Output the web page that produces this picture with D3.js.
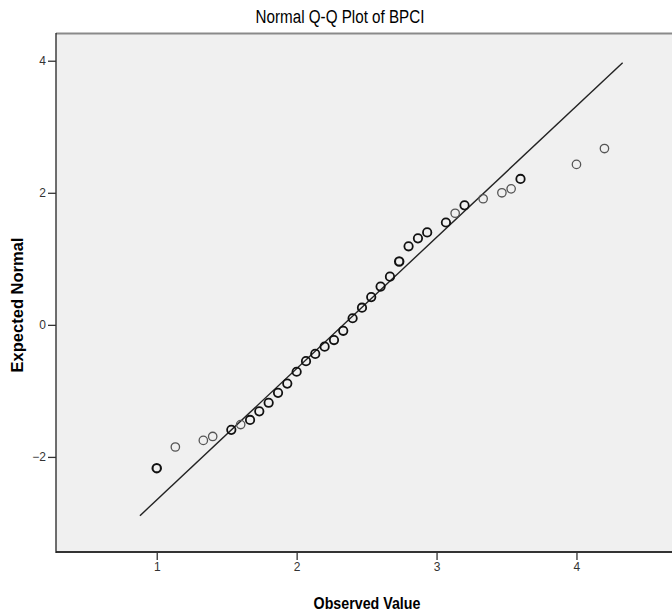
<!DOCTYPE html>
<html>
<head>
<meta charset="utf-8">
<script src="https://cdn.jsdelivr.net/npm/d3@7"></script>
<style>
  body { margin: 0; background: #fff; }
  svg { display: block; }
</style>
</head>
<body>
<script>
"use strict";

// observed BPCI values (distinct values) and their expected normal scores
var observed = [1.000, 1.133, 1.333, 1.400, 1.533, 1.600, 1.667, 1.733, 1.800, 1.867,
  1.933, 2.000, 2.067, 2.133, 2.200, 2.267, 2.333, 2.400, 2.467, 2.533,
  2.600, 2.667, 2.733, 2.800, 2.867, 2.933, 3.067, 3.133, 3.200, 3.333,
  3.467, 3.533, 3.600, 4.000, 4.200];
var expected = [-2.17, -1.85, -1.75, -1.69, -1.59, -1.51, -1.44, -1.31, -1.18, -1.03,
  -0.89, -0.71, -0.55, -0.44, -0.33, -0.23, -0.09, 0.10, 0.26, 0.42,
  0.58, 0.73, 0.96, 1.19, 1.31, 1.40, 1.55, 1.69, 1.81, 1.91,
  2.00, 2.06, 2.21, 2.43, 2.67];
// cases stacked on each marker (drawn heavier when > 1)
var counts = [3, 1, 1, 1, 2, 1, 2, 2, 2, 2,
  2, 2, 2, 2, 2, 2, 2, 2, 2, 2,
  2, 2, 3, 2, 2, 2, 2, 1, 2, 1,
  1, 1, 2, 1, 1];
// reference line end points
var lineX = [0.88, 4.33];
var lineY = [-2.89, 3.97];
var xTicks = [1, 2, 3, 4];
var yTicks = [-2, 0, 2, 4];

(function () {
  var W = 672, H = 615,
    left = 56, top = 33, right = 680, bottom = 552,
    font = "'Liberation Sans', Arial, sans-serif",
    svg, x, y, xAxis, yAxis, pts;

  svg = d3.select("body").append("svg")
    .attr("width", W)
    .attr("height", H)
    .style("font-family", font);

  x = d3.scaleLinear().domain([0.28, 4.74]).range([left, right]);
  y = d3.scaleLinear().domain([-3.44, 4.42]).range([bottom, top]);

  // plot frame
  svg.append("rect")
    .attr("x", left).attr("y", top)
    .attr("width", right - left).attr("height", bottom - top)
    .attr("fill", "#f0f0f0");
  svg.append("line")
    .attr("x1", left).attr("x2", right).attr("y1", top + 0.5).attr("y2", top + 0.5)
    .attr("stroke", "#8a8a8a").attr("stroke-width", 2);
  svg.append("line")
    .attr("x1", left).attr("x2", right).attr("y1", bottom).attr("y2", bottom)
    .attr("stroke", "#333").attr("stroke-width", 2);
  svg.append("line")
    .attr("x1", left).attr("x2", left).attr("y1", top).attr("y2", bottom + 1)
    .attr("stroke", "#222").attr("stroke-width", 1.3);

  // axes
  xAxis = svg.append("g")
    .attr("transform", "translate(0," + bottom + ")")
    .call(d3.axisBottom(x).tickValues(xTicks).tickSize(8).tickPadding(2)
      .tickFormat(d3.format("d")));
  yAxis = svg.append("g")
    .attr("transform", "translate(" + left + ",0)")
    .call(d3.axisLeft(y).tickValues(yTicks).tickSize(8).tickPadding(2)
      .tickFormat(d3.format("d")));
  [xAxis, yAxis].forEach(function (g) {
    g.select(".domain").remove();
    g.selectAll(".tick line").attr("stroke", "#333").attr("stroke-width", 1.3);
    g.selectAll(".tick text")
      .attr("fill", "#333")
      .style("font-family", font)
      .style("font-size", "12px");
  });

  // reference line
  svg.append("path")
    .datum(d3.range(lineX.length))
    .attr("fill", "none")
    .attr("stroke", "#222")
    .attr("stroke-width", 1.4)
    .attr("d", d3.line()
      .x(function (i) { return x(lineX[i]); })
      .y(function (i) { return y(lineY[i]); }));

  // points
  pts = d3.range(observed.length);
  svg.append("g").selectAll("circle")
    .data(pts)
    .join("circle")
    .attr("cx", function (i) { return x(observed[i]); })
    .attr("cy", function (i) { return y(expected[i]); })
    .attr("r", 4.2)
    .attr("fill", "none")
    .attr("stroke", function (i) { return counts[i] > 1 ? "#111" : "#555"; })
    .attr("stroke-width", function (i) { return counts[i] > 2 ? 2.1 : counts[i] > 1 ? 1.8 : 1.3; });

  // titles
  svg.append("text")
    .attr("transform", "translate(340,23) scale(0.95,1.1)")
    .attr("text-anchor", "middle")
    .style("font-size", "16px")
    .text("Normal Q-Q Plot of BPCI");

  svg.append("text")
    .attr("transform", "translate(367,609) scale(0.95,1.1)")
    .attr("text-anchor", "middle")
    .style("font-size", "15px")
    .style("font-weight", "bold")
    .text("Observed Value");

  svg.append("text")
    .attr("transform", "translate(23,305) rotate(-90)")
    .attr("text-anchor", "middle")
    .style("font-size", "16.5px")
    .style("font-weight", "bold")
    .text("Expected Normal");
}());
</script>
</body>
</html>
